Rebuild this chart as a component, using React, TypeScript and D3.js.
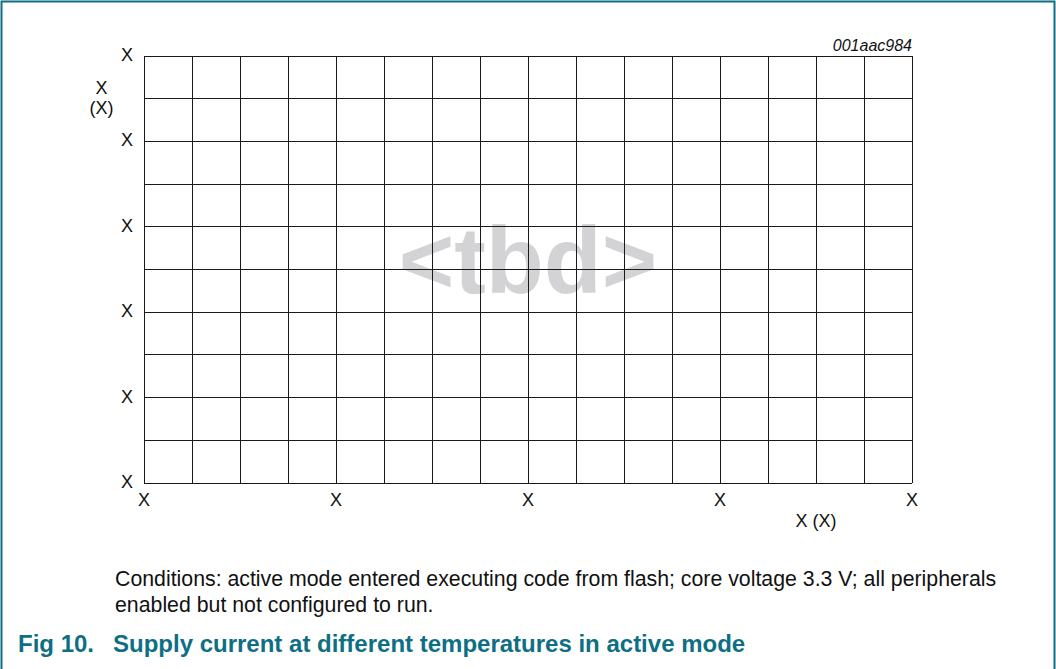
import React from "react";
import * as d3 from "d3";

const W = 1056;
const H = 669;

// Grid divisions (placeholder chart: all tick labels are "X")
const xDivisions = d3.range(0, 17); // 16 columns
const yDivisions = d3.range(0, 11); // 10 rows
const xTickValues = [0, 4, 8, 12, 16];
const xTickLabels = ["X", "X", "X", "X", "X"];
const yTickValues = [0, 2, 4, 6, 8, 10];
const yTickLabels = ["X", "X", "X", "X", "X", "X"];
const yTitle = ["X", "(X)"];
const xTitle = "X (X)";
const figId = "001aac984";
const watermark = "<tbd>";
const conditions = [
  "Conditions: active mode entered executing code from flash; core voltage 3.3 V; all peripherals",
  "enabled but not configured to run.",
];
const figNumber = "Fig 10.";
const caption = "Supply current at different temperatures in active mode";

const FONT = "'Liberation Sans', Arial, Helvetica, sans-serif";
const TEAL = "#0e6f84";

export default function App() {
  const x = d3.scaleLinear().domain([0, 16]).range([144, 912]);
  const y = d3.scaleLinear().domain([0, 10]).range([483, 56]);
  const [x0, x1] = x.range();
  const [y0, y1] = y.range();

  return (
    <svg
      width={W}
      height={H}
      style={{ position: "absolute", left: 0, top: 0, background: "#fff" }}
      fontFamily={FONT}
    >
      <rect x={0} y={0} width={W} height={H} fill="#fff" />
      {/* frame */}
      <path
        d={`M1.5,${H} L1.5,1.5 L1054.5,1.5 L1054.5,${H}`}
        fill="none"
        stroke={TEAL}
        strokeWidth={2}
      />
      {/* watermark */}
      <text
        x={(x0 + x1) / 2}
        y={293}
        textAnchor="middle"
        fontSize={95}
        fontWeight="bold"
        fill="#d3d3d5"
      >
        {watermark}
      </text>
      {/* grid */}
      <g stroke="#1a1a1a" strokeWidth={1} shapeRendering="crispEdges">
        {xDivisions.map((d) => (
          <line key={"v" + d} x1={x(d)} x2={x(d)} y1={y1} y2={y0} />
        ))}
        {yDivisions.map((d) => (
          <line key={"h" + d} x1={x0} x2={x1} y1={y(d)} y2={y(d)} />
        ))}
      </g>
      {/* tick labels and titles */}
      <g fontSize={18} fill="#111">
        {yTickValues.map((v, i) => (
          <text key={"yt" + i} x={x0 - 11} y={y(v) + 5} textAnchor="end">
            {yTickLabels[i]}
          </text>
        ))}
        {xTickValues.map((v, i) => (
          <text key={"xt" + i} x={x(v)} y={506} textAnchor="middle">
            {xTickLabels[i]}
          </text>
        ))}
        <text x={101.5} y={94} textAnchor="middle">
          {yTitle[0]}
        </text>
        <text x={101.5} y={114} textAnchor="middle">
          {yTitle[1]}
        </text>
        <text x={816} y={527} textAnchor="middle">
          {xTitle}
        </text>
      </g>
      <text x={x1} y={51} textAnchor="end" fontSize={16} fontStyle="italic" fill="#111">
        {figId}
      </text>
      {/* conditions */}
      <g fontSize={21.3} fill="#111">
        {conditions.map((c, i) => (
          <text key={"c" + i} x={115} y={586 + i * 25.5}>
            {c}
          </text>
        ))}
      </g>
      <g fontSize={24} fontWeight="bold" fill={TEAL}>
        <text x={18} y={652}>
          {figNumber}
        </text>
        <text x={113} y={652}>
          {caption}
        </text>
      </g>
    </svg>
  );
}
